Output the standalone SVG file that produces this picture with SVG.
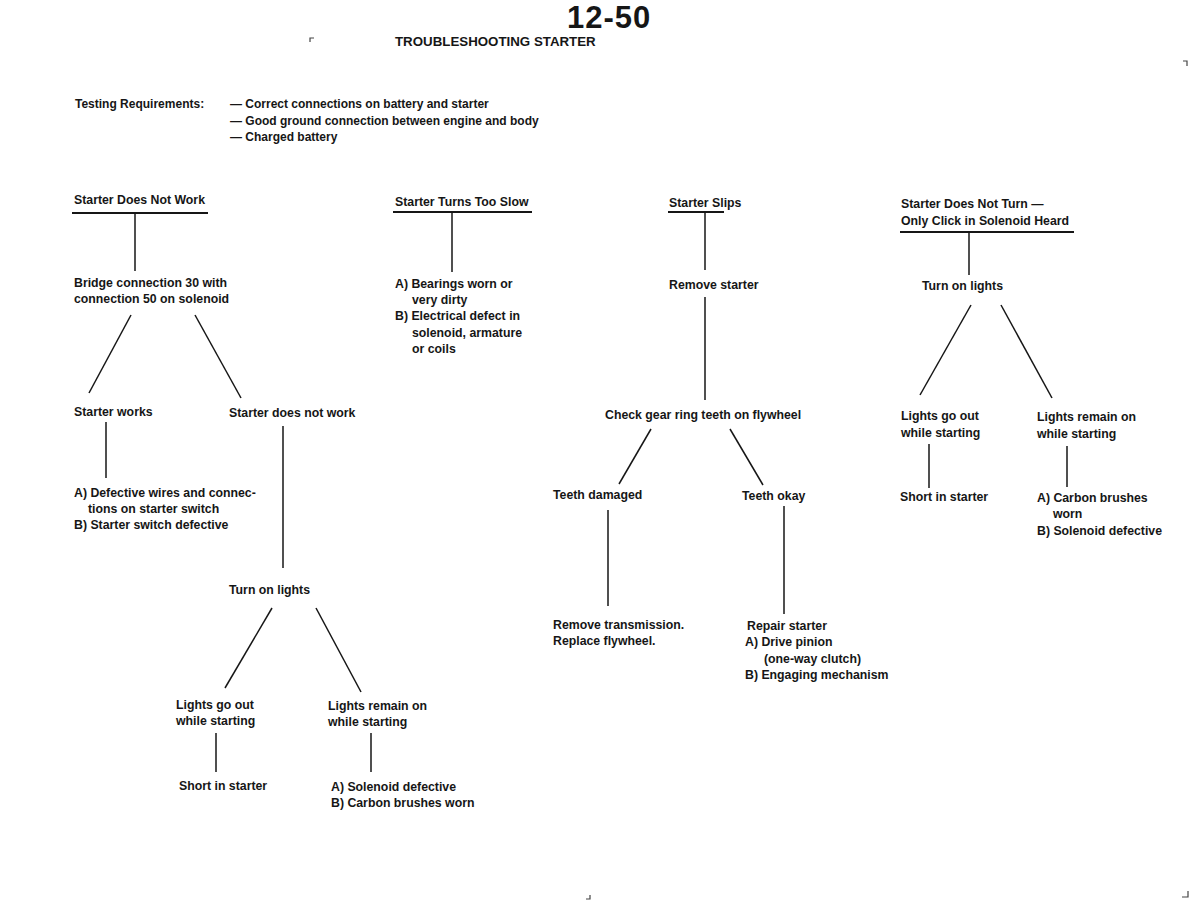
<svg xmlns="http://www.w3.org/2000/svg" width="1200" height="908" viewBox="0 0 1200 908">
<style>
text{font-family:"Liberation Sans",Arial,Helvetica,sans-serif;font-weight:bold;font-size:12.3px;fill:#161616}
.ttl{font-size:31px;letter-spacing:1px}
.sub{font-size:13.3px}
.req{font-size:12px}
.ln{stroke:#161616;stroke-width:1.5;fill:none}
.ul{stroke:#161616;stroke-width:2;fill:none}
.mk{stroke:#444;stroke-width:1.2;fill:none}
</style>
<rect width="1200" height="908" fill="#ffffff"/>
<g id="header">
<text class="ttl" x="567" y="28">12-50</text>
<text class="sub" x="395" y="46">TROUBLESHOOTING STARTER</text>
</g>
<g id="marks">
<path class="mk" d="M310,42 V38 H314"/>
<path class="mk" d="M1183,61 H1187 V66"/>
<path class="mk" d="M1182,897 H1188 V891"/>
<path class="mk" d="M586,899 H590 V895"/>
</g>
<g id="requirements">
<text class="req" x="75" y="108">Testing Requirements:</text>
<text class="req" x="230" y="108">— Correct connections on battery and starter</text>
<text class="req" x="230" y="125">— Good ground connection between engine and body</text>
<text class="req" x="230" y="141">— Charged battery</text>
</g>
<g id="connectors">
<path class="ul" d="M72,213 H208"/>
<path class="ln" d="M135,213 V271"/>
<path class="ln" d="M131,315 L89,393"/>
<path class="ln" d="M195,315 L241,398"/>
<path class="ln" d="M106,422 V478"/>
<path class="ln" d="M283,426 V568"/>
<path class="ln" d="M272,608 L225,688"/>
<path class="ln" d="M316,608 L361,692"/>
<path class="ln" d="M216,733 V772"/>
<path class="ln" d="M371,733 V772"/>
<path class="ul" d="M393,212 H532"/>
<path class="ln" d="M452,212 V272"/>
<path class="ul" d="M668,212 H724"/>
<path class="ln" d="M705,212 V270"/>
<path class="ln" d="M705,297 V400"/>
<path class="ln" d="M651,429 L619,484"/>
<path class="ln" d="M730,429 L763,485"/>
<path class="ln" d="M608,510 V606"/>
<path class="ln" d="M784,506 V614"/>
<path class="ul" d="M900,232 H1074"/>
<path class="ln" d="M969,232 V275"/>
<path class="ln" d="M971,305 L920,395"/>
<path class="ln" d="M1001,305 L1052,398"/>
<path class="ln" d="M929,444 V488"/>
<path class="ln" d="M1067,446 V487"/>
</g>
<g id="n1-head"><text x="74" y="204">Starter Does Not Work</text></g>
<g id="n1-bridge"><text x="74" y="287">Bridge connection 30 with</text><text x="74" y="303">connection 50 on solenoid</text></g>
<g id="n1-works"><text x="74" y="416">Starter works</text></g>
<g id="n1-notwork"><text x="229" y="417">Starter does not work</text></g>
<g id="n1-defective"><text x="74" y="497">A) Defective wires and connec-</text><text x="88" y="513">tions on starter switch</text><text x="74" y="529">B) Starter switch defective</text></g>
<g id="n1-lights"><text x="229" y="594">Turn on lights</text></g>
<g id="n1-out"><text x="176" y="709">Lights go out</text><text x="176" y="725">while starting</text></g>
<g id="n1-remain"><text x="328" y="710">Lights remain on</text><text x="328" y="726">while starting</text></g>
<g id="n1-short"><text x="179" y="790">Short in starter</text></g>
<g id="n1-solenoid"><text x="331" y="791">A) Solenoid defective</text><text x="331" y="807">B) Carbon brushes worn</text></g>
<g id="n2-head"><text x="395" y="206">Starter Turns Too Slow</text></g>
<g id="n2-causes"><text x="395" y="288">A) Bearings worn or</text><text x="412" y="304">very dirty</text><text x="395" y="320">B) Electrical defect in</text><text x="412" y="337">solenoid, armature</text><text x="412" y="353">or coils</text></g>
<g id="n3-head"><text x="669" y="207">Starter Slips</text></g>
<g id="n3-remove"><text x="669" y="289">Remove starter</text></g>
<g id="n3-check"><text x="605" y="419">Check gear ring teeth on flywheel</text></g>
<g id="n3-damaged"><text x="553" y="499">Teeth damaged</text></g>
<g id="n3-okay"><text x="742" y="500">Teeth okay</text></g>
<g id="n3-trans"><text x="553" y="629">Remove transmission.</text><text x="553" y="645">Replace flywheel.</text></g>
<g id="n3-repair"><text x="747" y="630">Repair starter</text><text x="745" y="646">A) Drive pinion</text><text x="764" y="663">(one-way clutch)</text><text x="745" y="679">B) Engaging mechanism</text></g>
<g id="n4-head"><text x="901" y="208">Starter Does Not Turn —</text><text x="901" y="225">Only Click in Solenoid Heard</text></g>
<g id="n4-lights"><text x="922" y="290">Turn on lights</text></g>
<g id="n4-out"><text x="901" y="420">Lights go out</text><text x="901" y="437">while starting</text></g>
<g id="n4-remain"><text x="1037" y="421">Lights remain on</text><text x="1037" y="438">while starting</text></g>
<g id="n4-short"><text x="900" y="501">Short in starter</text></g>
<g id="n4-causes"><text x="1037" y="502">A) Carbon brushes</text><text x="1053" y="518">worn</text><text x="1037" y="535">B) Solenoid defective</text></g>
</svg>
